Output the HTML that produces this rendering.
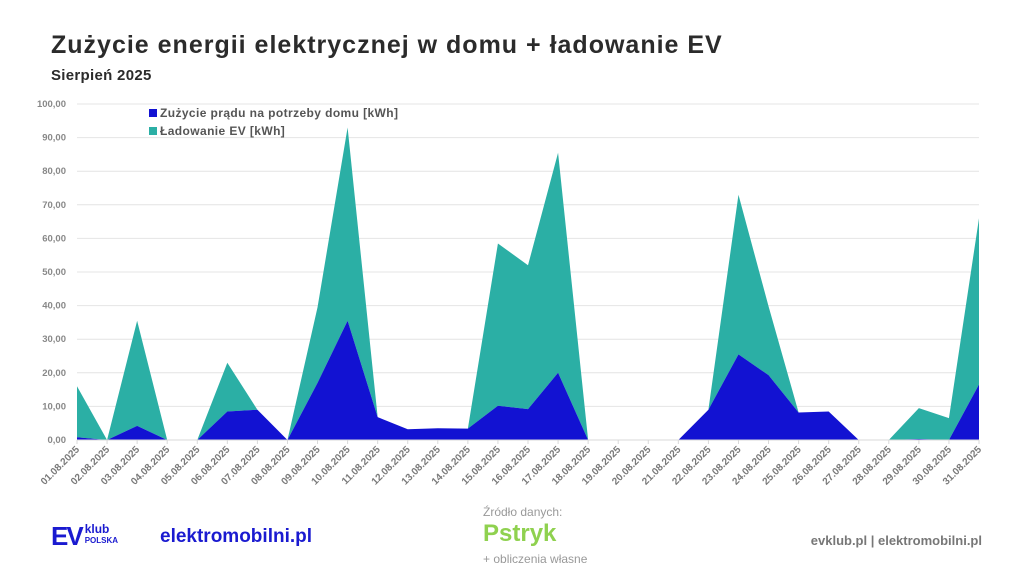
<!DOCTYPE html>
<html><head><meta charset="utf-8"><style>
html,body{margin:0;padding:0;background:#fff;}
body{width:1024px;height:576px;position:relative;overflow:hidden;font-family:"Liberation Sans",sans-serif;}
.t{position:absolute;white-space:nowrap;}
</style></head><body>
<div class="t" style="left:51px;top:31px;font-size:25px;letter-spacing:1px;font-weight:bold;color:#2b2b2b;">Zużycie energii elektrycznej w domu + ładowanie EV</div>
<div class="t" style="left:51px;top:67px;font-size:15px;letter-spacing:0.3px;font-weight:bold;color:#2b2b2b;">Sierpień 2025</div>
<svg id="chart" width="1024" height="576" style="position:absolute;left:0;top:0;"></svg>
<div class="t" style="left:51px;top:521px;color:#1a1ad0;font-weight:bold;">
<span style="font-size:26px;letter-spacing:-2px;">EV</span><span style="display:inline-block;font-size:12px;line-height:10px;vertical-align:top;margin-left:3px;margin-top:3px;">klub<br><span style="font-size:8px;">POLSKA</span></span></div>
<div class="t" style="left:160px;top:526px;font-size:19px;font-weight:bold;color:#1a1ad0;">elektromobilni.pl</div>
<div class="t" style="left:483px;top:505px;font-size:12px;color:#999;">Źródło danych:</div>
<div class="t" style="left:483px;top:520px;font-size:24px;font-weight:bold;color:#8fd14f;">Pstryk</div>
<div class="t" style="left:483px;top:552px;font-size:12px;color:#999;">+ obliczenia własne</div>
<div class="t" style="right:42px;top:533px;font-size:13px;font-weight:bold;color:#777;">evklub.pl | elektromobilni.pl</div>
<script>
const days=["01.08.2025","02.08.2025","03.08.2025","04.08.2025","05.08.2025","06.08.2025","07.08.2025","08.08.2025","09.08.2025","10.08.2025","11.08.2025","12.08.2025","13.08.2025","14.08.2025","15.08.2025","16.08.2025","17.08.2025","18.08.2025","19.08.2025","20.08.2025","21.08.2025","22.08.2025","23.08.2025","24.08.2025","25.08.2025","26.08.2025","27.08.2025","28.08.2025","29.08.2025","30.08.2025","31.08.2025"];
const house=[0.8,0,4.2,0,0,8.5,9,0,17,35.5,6.8,3.2,3.5,3.4,10.2,9.2,20,0,0,0,0,9,25.5,19.3,8.2,8.5,0,0,0.3,0,16.5];
const ev=[15.2,0,31.3,0,0,14.5,0,0,22.5,57.5,0,0,0,0,48.3,42.8,65.5,0,0,0,0,0,47.5,20.5,0,0,0,0,9.2,6.5,49.5];
const yTicks=[0,10,20,30,40,50,60,70,80,90,100];
const NS="http://www.w3.org/2000/svg";
const svg=document.getElementById('chart');
const x0=77,x1=979,y0=440,y1=104;
const X=i=>x0+i*(x1-x0)/(days.length-1);
const Y=v=>y0-v*(y0-y1)/100;
function mk(t,a){const e=document.createElementNS(NS,t);for(const k in a)e.setAttribute(k,a[k]);svg.appendChild(e);return e;}
yTicks.forEach(v=>{
 const l=mk('line',{x1:x0,x2:x1,y1:Y(v),y2:Y(v),stroke:'#e4e4e4','stroke-width':1});
 
 
 const t=mk('text',{x:66,y:Y(v)+3,'text-anchor':'end','font-size':9.5,'font-weight':'bold',fill:'#888','font-family':'Liberation Sans, sans-serif'});
 t.textContent=v.toFixed(2).replace('.',',');
 
 
});
const tot=house.map((h,i)=>h+ev[i]);
let d='M'+X(0)+','+Y(0);
tot.forEach((v,i)=>d+=' L'+X(i)+','+Y(v));
for(let i=house.length-1;i>=0;i--)d+=' L'+X(i)+','+Y(house[i]);
const a2=mk('path',{d:d+'Z',fill:'#2bafa5'});


let d2='M'+X(0)+','+Y(0);
house.forEach((v,i)=>d2+=' L'+X(i)+','+Y(v));
d2+=' L'+X(house.length-1)+','+Y(0)+'Z';
const a1=mk('path',{d:d2,fill:'#1212d2'});


const ax=mk('line',{x1:x0,x2:x1,y1:y0,y2:y0,stroke:'#d8d8d8'});


days.forEach((s,i)=>{
 const tk=mk('line',{x1:X(i),x2:X(i),y1:y0,y2:y0+4,stroke:'#d8d8d8'});
 
 
 const t=mk('text',{x:X(i)+3,y:y0+10,'text-anchor':'end','font-size':10,'font-weight':'bold',fill:'#7a7a7a','font-family':'Liberation Sans, sans-serif',transform:`rotate(-45 ${X(i)+3} ${y0+10})`});
 t.textContent=s;
 
 
});
[['Zużycie prądu na potrzeby domu [kWh]','#1212d2',113],['Ładowanie EV [kWh]','#2bafa5',131]].forEach(([txt,c,y])=>{
 const r=mk('rect',{x:149,y:y-4,width:8,height:8,fill:c});
 
 
 const t=mk('text',{x:160,y:y+4,'font-size':12,'letter-spacing':0.4,'font-weight':'bold',fill:'#555','font-family':'Liberation Sans, sans-serif'});
 t.textContent=txt;
 
 
});
</script>
</body></html>
